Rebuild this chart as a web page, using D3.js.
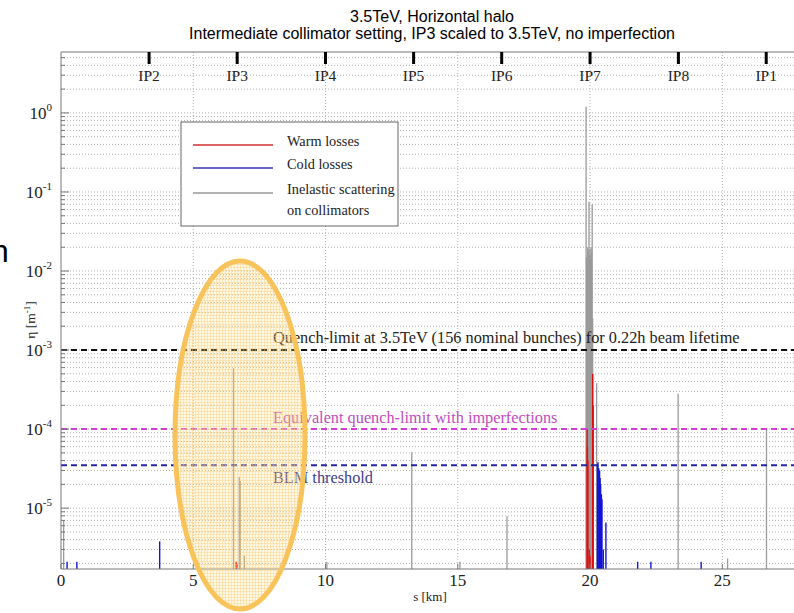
<!DOCTYPE html>
<html>
<head>
<meta charset="utf-8">
<script src="https://cdn.jsdelivr.net/npm/d3@7"></script>
<style>
  body { margin: 0; background: #fff; }
  svg { display: block; }
  .serif { font-family: "Liberation Serif", "DejaVu Serif", serif; }
  .title { font-family: "Liberation Sans", Arial, sans-serif; font-size: 16px; }
</style>
</head>
<body>
<svg id="chart"></svg>
<script>
// spikes: [s in km, eta in 1/m]
const inelastic = [
  [0.1, 7e-6], [6.52, 5.9e-4], [6.74, 2.5e-5], [6.78, 2.2e-5], [6.93, 2.5e-6],
  [10.05, 2.1e-6], [13.26, 5.1e-5], [15.08, 2.1e-6], [16.86, 7.9e-6],
  [19.85, 1.2], [19.87, 0.015], [19.89, 0.012], [19.91, 0.02], [19.93, 0.018],
  [19.96, 0.075], [19.98, 0.016], [20.0, 0.019], [20.02, 0.014], [20.04, 0.02],
  [20.06, 0.017], [20.08, 0.07], [20.1, 0.0025], [20.25, 3.8e-4],
  [23.33, 2.8e-4], [25.2, 2.3e-6], [26.67, 1.0e-4]
];
const warm = [
  [6.62, 2.1e-6], [6.66, 2.0e-6],
  [19.89, 1.0e-4], [19.9, 6e-5], [19.92, 4e-5], [19.97, 3e-6], [20.0, 2.5e-6],
  [20.1, 5.0e-4], [20.12, 2e-4]
];
const cold = [
  [0.23, 2.1e-6], [0.6, 2.1e-6], [3.73, 3.8e-6],
  [20.28, 3.6e-5], [20.3, 3.8e-5], [20.33, 3.2e-5], [20.36, 3e-5], [20.38, 2.4e-5],
  [20.4, 2e-5], [20.43, 1.5e-5], [20.45, 1.3e-5], [20.5, 3e-6], [20.6, 6.6e-6],
  [21.8, 2.1e-6], [22.3, 2.1e-6], [24.2, 2.1e-6]
];

const ipNames = ["IP2", "IP3", "IP4", "IP5", "IP6", "IP7", "IP8", "IP1"];
const ipS = [3.33, 6.66, 10.0, 13.33, 16.66, 20.0, 23.34, 26.66];

const limitValues = [1e-3, 1e-4, 3.5e-5];
const limitLabels = [
  "Quench-limit at 3.5TeV (156 nominal bunches) for 0.22h beam lifetime",
  "Equivalent quench-limit with imperfections",
  "BLM threshold"
];
const limitColors = ["#111", "#d23fd2", "#2525a0"];
const limitTextColors = ["#222", "#c04cc0", "#3c3c8c"];

const xTicks = [0, 5, 10, 15, 20, 25];
const yDecades = [0, -1, -2, -3, -4, -5];

const W = 794, H = 613;
const margin = {top: 52, right: 0, bottom: 44, left: 61};

const svg = d3.select("#chart").attr("width", W).attr("height", H);

const x = d3.scaleLinear().domain([0, 27.71]).range([margin.left, W - margin.right]);
const y = d3.scaleLog().domain([1.7e-6, 5.9]).range([H - margin.bottom, margin.top]);
const y0 = H - margin.bottom;

// title
svg.append("text").attr("class", "title")
    .attr("x", 432).attr("y", 22).attr("text-anchor", "middle")
    .text("3.5TeV, Horizontal halo");
svg.append("text").attr("class", "title")
    .attr("x", 432).attr("y", 39).attr("text-anchor", "middle")
    .text("Intermediate collimator setting, IP3 scaled to 3.5TeV, no imperfection");

// grid
const minorVals = [];
for (let e = -6; e <= 0; e++) {
  for (let m = 1; m <= 9; m++) {
    const v = m * Math.pow(10, e);
    if (v >= 1.7e-6 && v <= 5.9) minorVals.push(v);
  }
}
svg.append("g").selectAll("line").data(minorVals).enter().append("line")
    .attr("x1", margin.left).attr("x2", W)
    .attr("y1", d => y(d)).attr("y2", d => y(d))
    .attr("stroke", "#b0b0b0").attr("stroke-width", 1)
    .attr("stroke-dasharray", "1,2");
svg.append("g").selectAll("line").data(xTicks.slice(1)).enter().append("line")
    .attr("x1", d => x(d)).attr("x2", d => x(d))
    .attr("y1", margin.top).attr("y2", y0)
    .attr("stroke", "#b0b0b0").attr("stroke-width", 1)
    .attr("stroke-dasharray", "1,2");

// spikes
function spikes(data, color, w) {
  svg.append("g").selectAll("line").data(data).enter().append("line")
      .attr("x1", d => x(d[0])).attr("x2", d => x(d[0]))
      .attr("y1", y0).attr("y2", d => y(d[1]))
      .attr("stroke", color).attr("stroke-width", w);
}
spikes(inelastic, "#9a9a9a", 1.3);
spikes(warm, "#e01010", 1.4);
spikes(cold, "#1515d8", 1.4);

// limit lines
limitValues.forEach((v, i) => {
  svg.append("line")
      .attr("x1", margin.left).attr("x2", W)
      .attr("y1", y(v)).attr("y2", y(v))
      .attr("stroke", limitColors[i]).attr("stroke-width", 2)
      .attr("stroke-dasharray", "6,4");
});
const labelDy = [-7, -6, 18];
limitLabels.forEach((t, i) => {
  svg.append("text").attr("class", "serif").attr("x", 273).attr("y", y(limitValues[i]) + labelDy[i])
      .attr("font-size", 16.3).attr("fill", limitTextColors[i]).text(t);
});

// axes frame
svg.append("line").attr("x1", margin.left).attr("x2", margin.left)
    .attr("y1", margin.top).attr("y2", y0).attr("stroke", "#777");
svg.append("line").attr("x1", margin.left).attr("x2", W)
    .attr("y1", y0).attr("y2", y0).attr("stroke", "#777");
svg.append("line").attr("x1", margin.left).attr("x2", W)
    .attr("y1", margin.top).attr("y2", margin.top).attr("stroke", "#777");

// y ticks
svg.append("g").selectAll("line").data(minorVals).enter().append("line")
    .attr("x1", margin.left).attr("x2", d => margin.left + (Math.abs(Math.log10(d) - Math.round(Math.log10(d))) < 1e-9 ? 8 : 4))
    .attr("y1", d => y(d)).attr("y2", d => y(d))
    .attr("stroke", "#777");
const yl = svg.append("g").attr("class", "serif").selectAll("text").data(yDecades).enter().append("text")
    .attr("x", 52).attr("y", d => y(Math.pow(10, d)) + 6)
    .attr("text-anchor", "end").attr("font-size", 17).attr("fill", "#222");
yl.append("tspan").text("10");
yl.append("tspan").attr("dy", -8).attr("font-size", 11).text(d => d);

// x ticks
svg.append("g").selectAll("line").data(xTicks).enter().append("line")
    .attr("x1", d => x(d)).attr("x2", d => x(d))
    .attr("y1", y0).attr("y2", y0 - 5).attr("stroke", "#777");
svg.append("g").attr("class", "serif").selectAll("text").data(xTicks).enter().append("text")
    .attr("x", d => x(d)).attr("y", y0 + 17).attr("text-anchor", "middle")
    .attr("font-size", 17).attr("fill", "#222").text(d => d);
svg.append("text").attr("class", "serif").attr("x", 430).attr("y", 601)
    .attr("text-anchor", "middle").attr("font-size", 13).attr("fill", "#222").text("s [km]");

// y label
const ylab = svg.append("text").attr("class", "serif")
    .attr("transform", "translate(35,320) rotate(-90)")
    .attr("text-anchor", "middle").attr("font-size", 13.5).attr("fill", "#222");
ylab.append("tspan").text("η [m");
ylab.append("tspan").attr("dy", -5).attr("font-size", 9).text("-1");
ylab.append("tspan").attr("dy", 5).text("]");

// IP markers
svg.append("g").selectAll("line").data(ipS).enter().append("line")
    .attr("x1", d => x(d)).attr("x2", d => x(d))
    .attr("y1", margin.top).attr("y2", margin.top + 12)
    .attr("stroke", "#000").attr("stroke-width", 3);
svg.append("g").attr("class", "serif").selectAll("text").data(ipNames).enter().append("text")
    .attr("x", (d, i) => x(ipS[i])).attr("y", 81).attr("text-anchor", "middle")
    .attr("font-size", 15.5).attr("fill", "#222").text(d => d);

// legend
const lg = svg.append("g").attr("class", "serif");
lg.append("rect").attr("x", 181).attr("y", 122).attr("width", 217).attr("height", 104)
    .attr("fill", "#fff").attr("stroke", "#666");
const legColors = ["#d03030", "#3535b0", "#999"];
const legY = [145, 168, 193];
const legText = ["Warm losses", "Cold losses", "Inelastic scattering"];
legColors.forEach((c, i) => {
  lg.append("line").attr("x1", 193).attr("x2", 273).attr("y1", legY[i]).attr("y2", legY[i])
      .attr("stroke", c).attr("stroke-width", 1.3);
  lg.append("text").attr("x", 287).attr("y", legY[i] + 1).attr("font-size", 14.3)
      .attr("fill", "#222").text(legText[i]);
});
lg.append("text").attr("x", 287).attr("y", 215).attr("font-size", 14.3)
    .attr("fill", "#222").text("on collimators");

// slide fragment
svg.append("text").attr("x", -9).attr("y", 262)
    .attr("font-family", "Liberation Sans, Arial, sans-serif").attr("font-size", 32)
    .attr("fill", "#000").text("n");

// highlight ellipse
const defs = svg.append("defs");
const pat = defs.append("pattern").attr("id", "hatch").attr("patternUnits", "userSpaceOnUse")
    .attr("width", 3).attr("height", 3);
pat.append("rect").attr("width", 3).attr("height", 3).attr("fill", "rgba(255,225,150,0.25)");
pat.append("path").attr("d", "M0,0.5H3M0.5,0V3").attr("stroke", "rgba(250,200,100,0.35)").attr("stroke-width", 1);
svg.append("ellipse").attr("cx", 240).attr("cy", 435).attr("rx", 65).attr("ry", 174)
    .attr("fill", "url(#hatch)").attr("stroke", "#f9c35c").attr("stroke-width", 5);
</script>
</body>
</html>
